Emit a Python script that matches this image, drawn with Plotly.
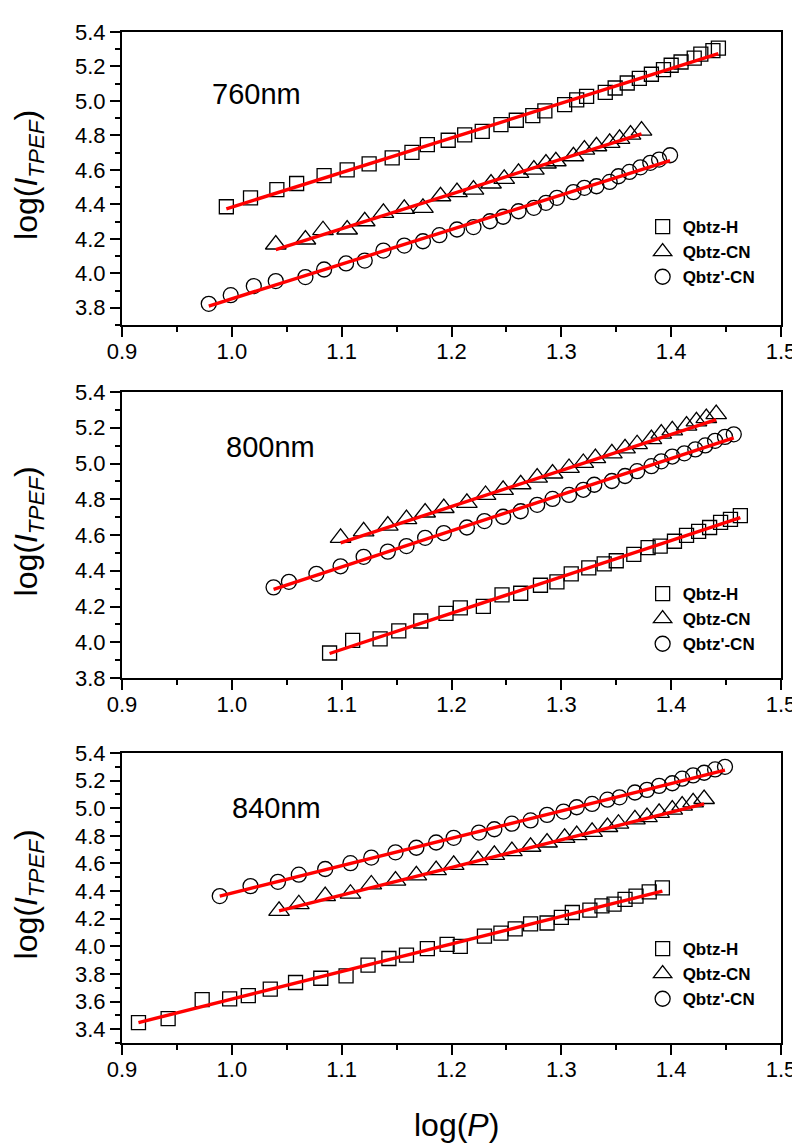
import plotly.graph_objects as go

FONT = "Arial, Liberation Sans, sans-serif"

# ---------------- data: 760 nm ----------------
x760_H = [0.995, 1.017, 1.041, 1.059, 1.084, 1.105, 1.125, 1.146, 1.164, 1.178, 1.197, 1.212, 1.228, 1.245, 1.259, 1.274,
          1.285, 1.303, 1.314, 1.323, 1.340, 1.349, 1.360, 1.371, 1.382, 1.393, 1.400, 1.409, 1.421, 1.427, 1.438, 1.443]
y760_H = [4.386, 4.438, 4.486, 4.521, 4.567, 4.600, 4.635, 4.670, 4.702, 4.747, 4.772, 4.803, 4.824, 4.863, 4.888, 4.915,
          4.942, 4.979, 5.006, 5.027, 5.050, 5.075, 5.104, 5.131, 5.155, 5.182, 5.207, 5.226, 5.249, 5.272, 5.292, 5.307]
x760_CN = [1.040, 1.067, 1.083, 1.105, 1.121, 1.138, 1.157, 1.174, 1.190, 1.205, 1.220, 1.236, 1.248, 1.261, 1.275, 1.286,
           1.295, 1.311, 1.321, 1.332, 1.344, 1.353, 1.363, 1.373]
y760_CN = [4.167, 4.196, 4.250, 4.254, 4.302, 4.351, 4.374, 4.380, 4.447, 4.471, 4.486, 4.521, 4.548, 4.583, 4.602, 4.637,
           4.650, 4.679, 4.718, 4.737, 4.757, 4.780, 4.805, 4.828]
x760_pCN = [0.979, 0.999, 1.020, 1.040, 1.067, 1.084, 1.104, 1.121, 1.138, 1.157, 1.174, 1.189, 1.205, 1.220, 1.235, 1.247,
            1.261, 1.275, 1.286, 1.296, 1.311, 1.321, 1.332, 1.344, 1.352, 1.362, 1.372, 1.381, 1.389, 1.399]
y760_pCN = [3.823, 3.873, 3.926, 3.955, 3.978, 4.022, 4.057, 4.074, 4.132, 4.161, 4.186, 4.221, 4.254, 4.268, 4.302, 4.328,
            4.360, 4.380, 4.409, 4.438, 4.471, 4.496, 4.505, 4.530, 4.563, 4.588, 4.615, 4.641, 4.660, 4.685]
fit760_H_x, fit760_H_y = [0.995, 1.443], [4.374, 5.274]
fit760_CN_x, fit760_CN_y = [1.040, 1.373], [4.138, 4.809]
fit760_pCN_x, fit760_pCN_y = [0.979, 1.399], [3.810, 4.654]

# ---------------- data: 800 nm ----------------
x800_H = [1.089, 1.110, 1.135, 1.152, 1.172, 1.195, 1.208, 1.229, 1.246, 1.263, 1.281, 1.296, 1.309, 1.325, 1.339, 1.350,
          1.366, 1.379, 1.390, 1.403, 1.414, 1.425, 1.435, 1.445, 1.454, 1.463]
y800_H = [3.940, 4.010, 4.019, 4.064, 4.119, 4.161, 4.192, 4.201, 4.265, 4.274, 4.319, 4.338, 4.383, 4.416, 4.438, 4.456,
          4.492, 4.529, 4.538, 4.565, 4.598, 4.620, 4.642, 4.671, 4.687, 4.708]
x800_CN = [1.099, 1.120, 1.142, 1.159, 1.176, 1.193, 1.214, 1.231, 1.247, 1.263, 1.278, 1.292, 1.307, 1.320, 1.331, 1.346,
           1.358, 1.369, 1.382, 1.391, 1.401, 1.414, 1.423, 1.432, 1.441]
y800_CN = [4.584, 4.620, 4.653, 4.689, 4.726, 4.751, 4.780, 4.824, 4.853, 4.884, 4.921, 4.944, 4.975, 5.003, 5.030, 5.057,
           5.085, 5.108, 5.136, 5.167, 5.185, 5.212, 5.236, 5.254, 5.276]
x800_pCN = [1.038, 1.052, 1.077, 1.099, 1.120, 1.142, 1.159, 1.176, 1.193, 1.214, 1.230, 1.247, 1.263, 1.278, 1.292, 1.307,
            1.320, 1.330, 1.346, 1.358, 1.369, 1.382, 1.391, 1.401, 1.412, 1.422, 1.431, 1.440, 1.449, 1.457]
y800_pCN = [4.307, 4.338, 4.383, 4.425, 4.478, 4.507, 4.538, 4.584, 4.611, 4.642, 4.678, 4.702, 4.733, 4.769, 4.802, 4.824,
            4.853, 4.881, 4.902, 4.930, 4.957, 4.985, 5.012, 5.039, 5.057, 5.079, 5.101, 5.127, 5.149, 5.163]
fit800_H_x, fit800_H_y = [1.089, 1.463], [3.937, 4.697]
fit800_CN_x, fit800_CN_y = [1.099, 1.441], [4.556, 5.245]
fit800_pCN_x, fit800_pCN_y = [1.038, 1.457], [4.296, 5.143]

# ---------------- data: 840 nm ----------------
x840_H = [0.915, 0.942, 0.973, 0.998, 1.015, 1.035, 1.058, 1.081, 1.104, 1.124, 1.143, 1.159, 1.178, 1.196, 1.208, 1.230,
          1.245, 1.258, 1.272, 1.287, 1.300, 1.310, 1.326, 1.337, 1.348, 1.358, 1.368, 1.380, 1.392]
y840_H = [3.448, 3.476, 3.614, 3.619, 3.643, 3.690, 3.738, 3.769, 3.786, 3.864, 3.912, 3.936, 3.983, 4.014, 4.000, 4.074,
          4.095, 4.126, 4.162, 4.169, 4.210, 4.245, 4.262, 4.293, 4.305, 4.340, 4.364, 4.395, 4.424]
x840_CN = [1.043, 1.061, 1.085, 1.108, 1.127, 1.149, 1.168, 1.186, 1.202, 1.224, 1.239, 1.255, 1.272, 1.287, 1.303, 1.314,
           1.328, 1.342, 1.352, 1.367, 1.378, 1.389, 1.401, 1.410, 1.420, 1.430]
y840_CN = [4.257, 4.305, 4.364, 4.381, 4.448, 4.476, 4.514, 4.552, 4.590, 4.624, 4.662, 4.690, 4.721, 4.752, 4.786, 4.805,
           4.829, 4.864, 4.888, 4.919, 4.936, 4.967, 4.990, 5.019, 5.043, 5.067]
x840_pCN = [0.989, 1.017, 1.042, 1.061, 1.085, 1.108, 1.127, 1.149, 1.168, 1.186, 1.202, 1.225, 1.239, 1.255, 1.272, 1.287,
            1.302, 1.314, 1.328, 1.342, 1.353, 1.367, 1.378, 1.389, 1.401, 1.410, 1.420, 1.430, 1.440, 1.449]
y840_pCN = [4.364, 4.436, 4.467, 4.519, 4.560, 4.602, 4.643, 4.681, 4.714, 4.752, 4.786, 4.824, 4.848, 4.888, 4.912, 4.952,
            4.976, 5.007, 5.031, 5.062, 5.079, 5.114, 5.133, 5.162, 5.181, 5.214, 5.238, 5.257, 5.281, 5.300]
fit840_H_x, fit840_H_y = [0.915, 1.392], [3.448, 4.400]
fit840_CN_x, fit840_CN_y = [1.043, 1.430], [4.257, 5.031]
fit840_pCN_x, fit840_pCN_y = [0.989, 1.449], [4.364, 5.276]

series_names = ["Qbtz-H", "Qbtz-CN", "Qbtz'-CN"]
panel_labels = ["760nm", "800nm", "840nm"]
x_ticks = [0.9, 1.0, 1.1, 1.2, 1.3, 1.4, 1.5]
y_ranges = [[3.7, 5.4], [3.8, 5.4], [3.3, 5.4]]

panels = [
    dict(data=[(x760_H, y760_H), (x760_CN, y760_CN), (x760_pCN, y760_pCN)],
         fits=[(fit760_H_x, fit760_H_y), (fit760_CN_x, fit760_CN_y), (fit760_pCN_x, fit760_pCN_y)]),
    dict(data=[(x800_H, y800_H), (x800_CN, y800_CN), (x800_pCN, y800_pCN)],
         fits=[(fit800_H_x, fit800_H_y), (fit800_CN_x, fit800_CN_y), (fit800_pCN_x, fit800_pCN_y)]),
    dict(data=[(x840_H, y840_H), (x840_CN, y840_CN), (x840_pCN, y840_pCN)],
         fits=[(fit840_H_x, fit840_H_y), (fit840_CN_x, fit840_CN_y), (fit840_pCN_x, fit840_pCN_y)]),
]

symbols = ["square-open", "triangle-up-open", "circle-open"]
sizes = [14, 18, 15]

W, H = 800, 1145
ML, MR, MT, MB = 114, 24, 24, 110
plot_h = H - MT - MB
plot_w = W - ML - MR
# pixel top/bottom of each panel
panel_px = [(24, 317), (384, 670), (745, 1035)]


def py(p):
    return (H - MB - p) / plot_h


domains = [[py(b), py(t)] for (t, b) in panel_px]
domains[0][1] = min(1.0, domains[0][1])

fig = go.Figure()
legend_names = ["legend", "legend2", "legend3"]

for i, pnl in enumerate(panels):
    xa = "x" if i == 0 else f"x{i+1}"
    ya = "y" if i == 0 else f"y{i+1}"
    for k, (xs, ys) in enumerate(pnl["data"]):
        fig.add_trace(go.Scatter(
            x=xs, y=ys, mode="markers", xaxis=xa, yaxis=ya,
            name=f"<b>{series_names[k]}</b>", legend=legend_names[i],
            marker=dict(symbol=symbols[k], size=sizes[k], color="black", line=dict(width=1.3, color="black")),
        ))
    for k, (fx, fy) in enumerate(pnl["fits"]):
        fig.add_trace(go.Scatter(
            x=fx, y=fy, mode="lines", xaxis=xa, yaxis=ya, showlegend=False,
            line=dict(color="#ff0000", width=3.4),
        ))

tickfont = dict(family=FONT, size=22, color="black")
layout = dict(
    width=W, height=H,
    margin=dict(l=ML, r=MR, t=MT, b=MB),
    paper_bgcolor="white", plot_bgcolor="white",
    font=dict(family=FONT, color="black"),
)

TL, ML_ = 10, 5
for i in range(3):
    sx = "" if i == 0 else str(i + 1)
    xr = [0.9, 1.5]
    yr = y_ranges[i]
    layout[f"xaxis{sx}"] = dict(
        domain=[0, 1], anchor=f"y{sx}", range=xr, tickvals=x_ticks,
        ticktext=[f"{v:.1f}" for v in x_ticks],
        ticks="outside", ticklen=TL, tickwidth=2, tickcolor="black",
        minor=dict(dtick=0.05, tick0=0.9, ticks="outside", ticklen=ML_, tickwidth=2, tickcolor="black", showgrid=False),
        showline=True, linewidth=2, linecolor="black", mirror=True,
        showgrid=False, zeroline=False, tickfont=tickfont, ticklabelstandoff=-4,
    )
    layout[f"yaxis{sx}"] = dict(
        domain=domains[i], anchor=f"x{sx}", range=yr, dtick=0.2, tick0=3.8, tickformat=".1f",
        ticks="outside", ticklen=TL, tickwidth=2, tickcolor="black",
        minor=dict(dtick=0.1, tick0=3.8, ticks="outside", ticklen=ML_, tickwidth=2, tickcolor="black", showgrid=False),
        showline=True, linewidth=2, linecolor="black", mirror=True,
        showgrid=False, zeroline=False, tickfont=tickfont,
    )
    ox = str(i + 4)
    layout[f"xaxis{ox}"] = dict(
        overlaying=f"x{sx}" if sx else "x", anchor=f"y{sx}", side="top", range=xr, tickvals=x_ticks,
        ticks="inside", ticklen=TL, tickwidth=2, tickcolor="black", showticklabels=False,
        minor=dict(dtick=0.05, tick0=0.9, ticks="inside", ticklen=ML_, tickwidth=2, tickcolor="black", showgrid=False),
        showline=False, showgrid=False, zeroline=False,
    )
    layout[f"yaxis{ox}"] = dict(
        overlaying=f"y{sx}" if sx else "y", anchor=f"x{sx}", side="right", range=yr, dtick=0.2, tick0=3.8,
        ticks="inside", ticklen=TL, tickwidth=2, tickcolor="black", showticklabels=False,
        minor=dict(dtick=0.1, tick0=3.8, ticks="inside", ticklen=ML_, tickwidth=2, tickcolor="black", showgrid=False),
        showline=False, showgrid=False, zeroline=False,
    )

legend_first_row_px = [217, 584, 939]
for i, ln in enumerate(legend_names):
    layout[ln] = dict(
        x=(637 - ML) / plot_w, y=py(legend_first_row_px[i] - 16),
        xanchor="left", yanchor="top", bgcolor="rgba(0,0,0,0)",
        font=dict(family=FONT, size=17, color="black"),
        tracegroupgap=0, itemwidth=30,
    )

annotations = []
label_pos = [(249, 86), (263, 439), (269, 800)]
for i in range(3):
    sx = "" if i == 0 else str(i + 1)
    t, b = panel_px[i]
    lx, lyp = label_pos[i]
    annotations.append(dict(
        text=panel_labels[i], xref=f"x{sx} domain", yref=f"y{sx} domain",
        x=(lx - ML) / plot_w, y=(b - lyp) / (b - t), showarrow=False,
        xanchor="center", yanchor="middle", font=dict(family=FONT, size=29, color="black"),
    ))
    annotations.append(dict(
        text="log(<i>I</i><sub><i>TPEF</i></sub>)", xref="paper", yref="paper",
        x=(20 - ML) / plot_w, y=py((t + b) / 2 - 4), showarrow=False, textangle=-90,
        xanchor="center", yanchor="middle", font=dict(family=FONT, size=32, color="black"),
    ))
annotations.append(dict(
    text="log(<i>P</i>)", xref="paper", yref="paper",
    x=(450 - ML) / plot_w, y=py(1117), showarrow=False, xanchor="center", yanchor="middle",
    font=dict(family=FONT, size=32, color="black"),
))
layout["annotations"] = annotations

fig.update_layout(**layout)
fig.write_html("out.html")
